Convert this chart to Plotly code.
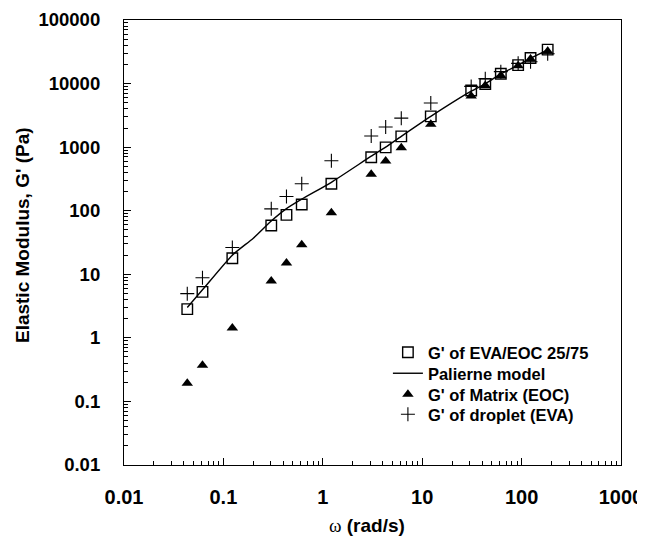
import plotly.graph_objects as go

# angular frequency (rad/s)
omega = [0.0433, 0.0616, 0.123, 0.303, 0.431, 0.614, 1.22, 3.07, 4.29, 6.16,
         12.2, 31.1, 43.1, 61.8, 92.3, 123, 183]

# G' of EVA/EOC 25/75 blend (Pa)
g_blend = [2.83, 5.28, 17.9, 58.6, 86, 125, 265, 692, 993, 1479,
           3048, 7762, 9840, 14300, 19500, 25300, 34200]

# G' of matrix (EOC) (Pa)
g_matrix = [0.194, 0.371, 1.43, 7.87, 15.1, 29.2, 92.9, 375, 603, 980,
            2290, 6360, 9350, 13400, 19000, 24400, 32100]

# G' of droplet (EVA) (Pa)
g_droplet = [4.96, 8.8, 26.4, 107, 167, 265, 611, 1497, 2070, 2860,
             4960, 9020, 11900, 15400, 20800, 22000, 29500]

# Palierne model curve
model_omega = [0.0433, 0.0616, 0.123, 0.2, 0.303, 0.431, 0.614, 1.22, 3.07, 4.29,
               6.16, 12.2, 31.1, 43.1, 61.8, 92.3, 123, 183]
model_g = [3.0, 5.7, 20, 37, 69, 108, 152, 280, 720, 1000,
           1480, 3050, 7600, 9900, 14200, 19500, 25000, 34000]

x_tickvals = [0.01, 0.1, 1, 10, 100, 1000]
x_ticktext = ["0.01", "0.1", "1", "10", "100", "1000"]
y_tickvals = [0.01, 0.1, 1, 10, 100, 1000, 10000, 100000]
y_ticktext = ["0.01", "0.1", "1", "10", "100", "1000", "10000", "100000"]

legend_names = ["G' of EVA/EOC 25/75", "Palierne model", "G' of Matrix (EOC)", "G' of droplet (EVA)"]
x_title = "<span style='font-family:Liberation Serif, Times New Roman, serif;font-weight:normal'>ω</span> (rad/s)"
y_title = "Elastic Modulus, G' (Pa)"

FONT = "Liberation Sans, Arial, sans-serif"


def minor_vals(lo, hi):
    return [m * 10.0 ** e for e in range(lo, hi) for m in range(2, 10)]


fig = go.Figure()
fig.add_trace(go.Scatter(
    x=omega, y=g_blend, mode="markers", name=legend_names[0], legend="legend",
    marker=dict(symbol="square-open", size=10.5, color="black", line=dict(width=1.4)),
))
fig.add_trace(go.Scatter(
    x=model_omega, y=model_g, mode="lines", name=legend_names[1], legend="legend2",
    line=dict(color="black", width=1.4, shape="spline", smoothing=0.6),
))
fig.add_trace(go.Scatter(
    x=omega, y=g_matrix, mode="markers", name=legend_names[2], legend="legend3",
    marker=dict(symbol="triangle-up", size=10, color="black"),
))
fig.add_trace(go.Scatter(
    x=omega, y=g_droplet, mode="markers", name=legend_names[3], legend="legend4",
    marker=dict(symbol="cross-thin", size=10, color="black", line=dict(width=1.1, color="black")),
))

axis_common = dict(
    type="log", showgrid=False, zeroline=False, automargin=False,
    showline=True, linecolor="black", linewidth=1.2, mirror=True,
    ticks="inside", ticklen=7, tickwidth=1, tickcolor="black",
    tickmode="array",
)

fig.update_xaxes(
    **axis_common,
    range=[-2, 3],
    tickvals=x_tickvals, ticktext=x_ticktext,
    tickfont=dict(family=FONT, size=20, color="black", weight="bold"),
    minor=dict(ticks="inside", ticklen=4, tickwidth=1, tickcolor="black",
               tickmode="array", tickvals=minor_vals(-2, 3), showgrid=False),
    ticklabelstandoff=14,
)
fig.update_yaxes(
    **axis_common,
    range=[-2, 5],
    tickvals=y_tickvals, ticktext=y_ticktext,
    tickfont=dict(family=FONT, size=18.5, color="black", weight="bold"),
    minor=dict(ticks="inside", ticklen=4, tickwidth=1, tickcolor="black",
               tickmode="array", tickvals=minor_vals(-2, 5), showgrid=False),
    ticklabelstandoff=19,
)

leg_common = dict(
    x=0.531, xanchor="left", yanchor="top",
    bgcolor="rgba(0,0,0,0)", borderwidth=0,
    font=dict(family=FONT, size=16.5, color="black", weight="bold"),
    itemwidth=30,
)

title_font = dict(family=FONT, size=19, color="black", weight="bold")

fig.update_layout(
    width=637, height=528,
    margin=dict(l=116, r=24, t=12, b=71),
    paper_bgcolor="white", plot_bgcolor="white",
    showlegend=True,
    legend=dict(y=0.2921, **leg_common),
    legend2=dict(y=0.2449, **leg_common),
    legend3=dict(y=0.1978, **leg_common),
    legend4=dict(y=0.1528, **leg_common),
    annotations=[
        dict(text=x_title, xref="paper", yref="paper", x=0.489, y=-0.135,
             xanchor="center", yanchor="middle", showarrow=False, font=title_font),
        dict(text=y_title, xref="paper", yref="paper", x=-0.203, y=0.517,
             xanchor="center", yanchor="middle", textangle=-90, showarrow=False, font=title_font),
    ],
)

fig.write_html("out.html")
